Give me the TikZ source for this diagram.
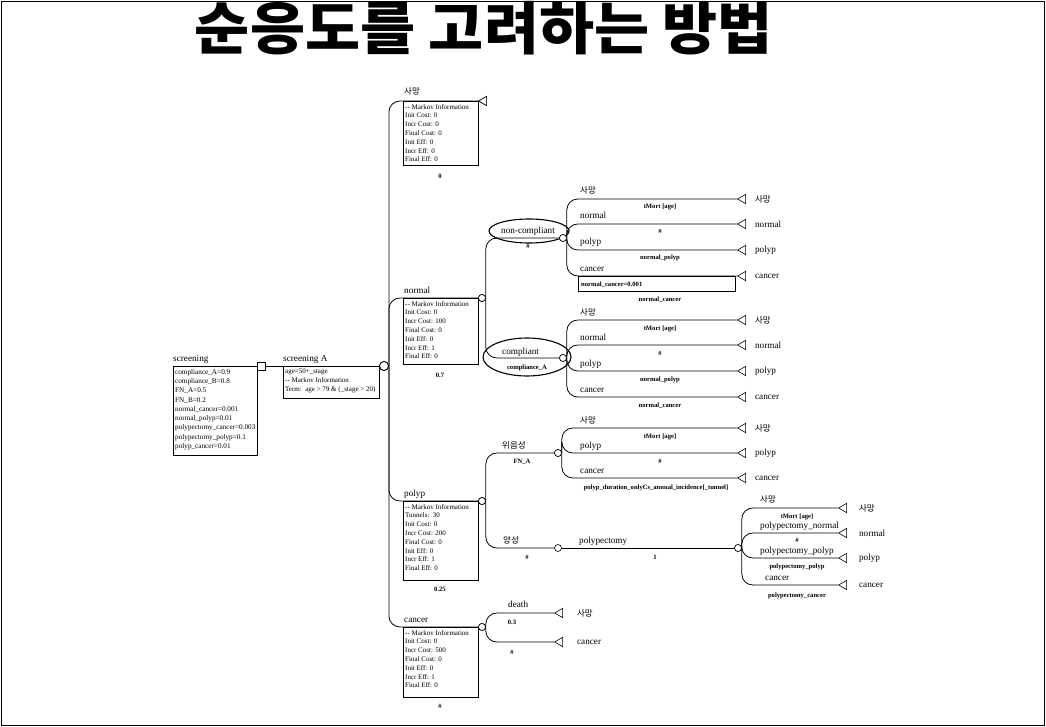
\documentclass[tikz,border=0pt]{standalone}
\usepackage{fontspec}
\setmainfont{Liberation Serif}
\newfontfamily\kr{Noto Sans CJK KR}
\usetikzlibrary{shapes.geometric}
\begin{document}
\begin{tikzpicture}[x=1pt,y=-1pt,
  br/.style={line width=0.8pt, rounded corners=11pt},
  chance/.style={circle, draw, fill=white, minimum size=7pt, inner sep=0pt, line width=0.6pt},
  markov/.style={circle, draw, fill=white, minimum size=9pt, inner sep=0pt, line width=0.8pt},
  decis/.style={rectangle, draw, fill=white, minimum size=8pt, inner sep=0pt, line width=0.6pt},
  term/.style={isosceles triangle, isosceles triangle apex angle=60, shape border rotate=180, draw, fill=white, inner sep=0pt, minimum height=8pt, line width=0.6pt},
  lab/.style={font=\fontsize{9.2}{10}\selectfont, anchor=base west, inner sep=0pt},
  klab/.style={font=\kr\fontsize{8.5}{9}\selectfont, anchor=base west, inner sep=0pt},
  tlab/.style={font=\fontsize{9.2}{10}\selectfont, anchor=west, inner sep=0pt},
  tklab/.style={font=\kr\fontsize{8.5}{9}\selectfont, anchor=west, inner sep=0pt},
  sublab/.style={font=\bfseries\fontsize{6.6}{7}\selectfont, anchor=base, inner sep=0pt},
  boxtxt/.style={font=\fontsize{7}{8.8}\selectfont, align=left, anchor=north west, inner sep=0pt},
  mbox/.style={draw, line width=0.8pt},
  ann/.style={line width=1.1pt}]
\useasboundingbox (0,0) rectangle (1046,727);
\draw[line width=1.3pt] (1.5,1.5) rectangle (1044.5,725.5);

% title
\node[font=\kr\bfseries\fontsize{57}{60}\selectfont, anchor=base, inner sep=0pt] (title) at (484,50) {\scalebox{1.05}[1]{순응도를 고려하는 방법}};

% root
\draw[mbox] (173,366) rectangle (257,455);
\node[lab] (scrlab) at (173,361) {screening};
\node[boxtxt, font=\fontsize{7.2}{9.3}\selectfont] (scrtxt) at (175,369) {compliance\_A=0.9\\compliance\_B=0.8\\FN\_A=0.5\\FN\_B=0.2\\normal\_cancer=0.001\\normal\_polyp=0.01\\polypectomy\_cancer=0.003\\polypectomy\_polyp=0.1\\polyp\_cancer=0.01};
\node[decis] (D) at (261,366) {};

% screening A
\node[markov] (M) at (384,366) {};
\draw[line width=0.8pt] (D.east) -- (M.west);
\node[lab] (salab) at (283,361) {screening A};
\draw[mbox] (283,366) rectangle (379,398);
\node[boxtxt] (satxt) at (285,369) {age=50+\_stage\\-{}- Markov Information\\Term:\ \ age > 79 \& (\_stage > 20)};

% Markov states
\node[term, anchor=apex] (S0) at (478,101) {};
\node[chance] (Nn) at (482,298) {};
\node[chance] (Np) at (482,501) {};
\node[chance] (Nc) at (482,627) {};
\draw[mbox] (403,101) rectangle (478,165);
\draw[mbox] (403,298) rectangle (478,364);
\draw[mbox] (403,501) rectangle (478,580);
\draw[mbox] (403,627) rectangle (478,697);
\draw[br] (M.east) |- (S0.apex);
\draw[br] (M.east) |- (Nn.west);
\draw[br] (M.east) |- (Np.west);
\draw[br] (M.east) |- (Nc.west);
\node[term, anchor=apex] at (478,101) {};
\node[chance] at (482,298) {};
\node[chance] at (482,501) {};
\node[chance] at (482,627) {};
\node[markov] at (384,366) {};

\node[klab] (l0) at (404,95) {사망};
\node[lab] (l1) at (404,293) {normal};
\node[lab] (l2) at (404,496) {polyp};
\node[lab] (l3) at (404,622) {cancer};
\node[boxtxt] (b0) at (405,104) {-{}- Markov Information\\Init Cost: 0\\Incr Cost: 0\\Final Cost: 0\\Init Eff: 0\\Incr Eff: 0\\Final Eff: 0};
\node[boxtxt] (b1) at (405,301) {-{}- Markov Information\\Init Cost: 0\\Incr Cost: 100\\Final Cost: 0\\Init Eff: 0\\Incr Eff: 1\\Final Eff: 0};
\node[boxtxt] (b2) at (405,504) {-{}- Markov Information\\Tunnels:\ \ 30\\Init Cost: 0\\Incr Cost: 200\\Final Cost: 0\\Init Eff: 0\\Incr Eff: 1\\Final Eff: 0};
\node[boxtxt] (b3) at (405,630) {-{}- Markov Information\\Init Cost: 0\\Incr Cost: 500\\Final Cost: 0\\Init Eff: 0\\Incr Eff: 1\\Final Eff: 0};
\node[sublab] (p0) at (440,179) {0};
\node[sublab] (p1) at (440,377) {0.7};
\node[sublab] (p2) at (440,591) {0.25};
\node[sublab] (p3) at (440,708) {\#};

% normal subtree
\node[chance] (Nnc) at (563,238) {};
\node[chance] (Ncp) at (563,358) {};
\draw[br] (Nn.east) |- (Nnc.west);
\draw[br] (Nn.east) |- (Ncp.west);
\node[chance] at (482,298) {};
\node[lab, anchor=base] (lnc) at (528,234) {non-compliant};
\draw[ann] (529,231) ellipse [x radius=40, y radius=12];
\node[sublab] (pnc) at (528,249) {\#};
\node[lab] (lcp) at (502,354) {compliant};
\node[sublab] (pcp) at (527,369) {compliance\_A};
\draw[ann] (527,357) ellipse [x radius=44, y radius=19];

% non-compliant children
\foreach \n/\y in {a/199,b/224,c/250,d/276}{
  \node[term, anchor=apex] (t1\n) at (737,\y) {};
  \draw[br] (Nnc.east) |- (t1\n.apex);
}
\node[chance] at (563,238) {};
\node[klab] at (580,194) {사망};
\node[lab] at (580,219) {normal};
\node[lab] at (580,245) {polyp};
\node[lab] at (580,271) {cancer};
\node[sublab] at (660,209) {tMort [age]};
\node[sublab] at (660,234) {\#};
\node[sublab] at (660,260) {normal\_polyp};
\draw[mbox] (578,276) rectangle (735,291);
\node[sublab, anchor=base west] at (581,287) {normal\_cancer=0.001};
\node[sublab] at (660,301) {normal\_cancer};
\node[tklab] at (t1a.east) [xshift=9pt] {사망};
\node[tlab] at (t1b.east) [xshift=9pt] {normal};
\node[tlab] at (t1c.east) [xshift=9pt] {polyp};
\node[tlab] at (t1d.east) [xshift=9pt] {cancer};

% compliant children
\foreach \n/\y in {a/320,b/345,c/371,d/397}{
  \node[term, anchor=apex] (t2\n) at (737,\y) {};
  \draw[br] (Ncp.east) |- (t2\n.apex);
}
\node[chance] at (563,358) {};
\node[klab] at (580,315) {사망};
\node[lab] at (580,340) {normal};
\node[lab] at (580,366) {polyp};
\node[lab] at (580,392) {cancer};
\node[sublab] at (660,330) {tMort [age]};
\node[sublab] at (660,355) {\#};
\node[sublab] at (660,381) {normal\_polyp};
\node[sublab] at (660,407) {normal\_cancer};
\node[tklab] at (t2a.east) [xshift=9pt] {사망};
\node[tlab] at (t2b.east) [xshift=9pt] {normal};
\node[tlab] at (t2c.east) [xshift=9pt] {polyp};
\node[tlab] at (t2d.east) [xshift=9pt] {cancer};

% polyp subtree
\node[chance] (Nfn) at (558,453) {};
\node[chance] (Npos) at (558,548) {};
\draw[br] (Np.east) |- (Nfn.west);
\draw[br] (Np.east) |- (Npos.west);
\node[chance] at (482,501) {};
\node[klab] at (502,448) {위음성};
\node[sublab] at (522,463) {FN\_A};
\node[klab] at (503,543) {양성};
\node[sublab] at (527,559) {\#};

\foreach \n/\y in {a/428,b/453,c/478}{
  \node[term, anchor=apex] (t3\n) at (737,\y) {};
  \draw[br] (Nfn.east) |- (t3\n.apex);
}
\node[chance] at (558,453) {};
\node[klab] at (580,423) {사망};
\node[lab] at (580,448) {polyp};
\node[lab] at (580,473) {cancer};
\node[sublab] at (660,438) {tMort [age]};
\node[sublab] at (660,463) {\#};
\node[sublab] at (656,489) {polyp\_duration\_onlyCs\_annual\_incidence[\_tunnel]};
\node[tklab] at (t3a.east) [xshift=9pt] {사망};
\node[tlab] at (t3b.east) [xshift=9pt] {polyp};
\node[tlab] at (t3c.east) [xshift=9pt] {cancer};

\node[chance] (Nppx) at (738,548) {};
\draw[line width=0.8pt] (Npos.east) -- (Nppx.west);
\node[lab] at (579,543) {polypectomy};
\node[sublab] at (655,559) {1};
\foreach \n/\y in {a/508,b/533,c/558,d/585}{
  \node[term, anchor=apex] (t4\n) at (838,\y) {};
  \draw[br] (Nppx.east) |- (t4\n.apex);
}
\node[chance] at (738,548) {};
\node[klab] at (760,502) {사망};
\node[lab] at (760,528) {polypectomy\_normal};
\node[lab] at (760,553) {polypectomy\_polyp};
\node[lab] at (765,580) {cancer};
\node[sublab] at (797,518) {tMort [age]};
\node[sublab] at (797,542) {\#};
\node[sublab] at (797,568) {polypectomy\_polyp};
\node[sublab] at (797,597) {polypectomy\_cancer};
\node[tklab] at (t4a.east) [xshift=12pt] {사망};
\node[tlab] at (t4b.east) [xshift=12pt] {normal};
\node[tlab] at (t4c.east) [xshift=12pt] {polyp};
\node[tlab] at (t4d.east) [xshift=12pt] {cancer};

% cancer subtree
\foreach \n/\y in {a/613,b/642}{
  \node[term, anchor=apex] (t5\n) at (554,\y) {};
  \draw[br] (Nc.east) |- (t5\n.apex);
}
\node[chance] at (482,627) {};
\node[lab] at (508,607) {death};
\node[sublab] at (512,624) {0.3};
\node[sublab] at (512,654) {\#};
\node[tklab] at (t5a.east) [xshift=14pt] {사망};
\node[tlab] at (t5b.east) [xshift=14pt] {cancer};
\end{tikzpicture}
\end{document}
